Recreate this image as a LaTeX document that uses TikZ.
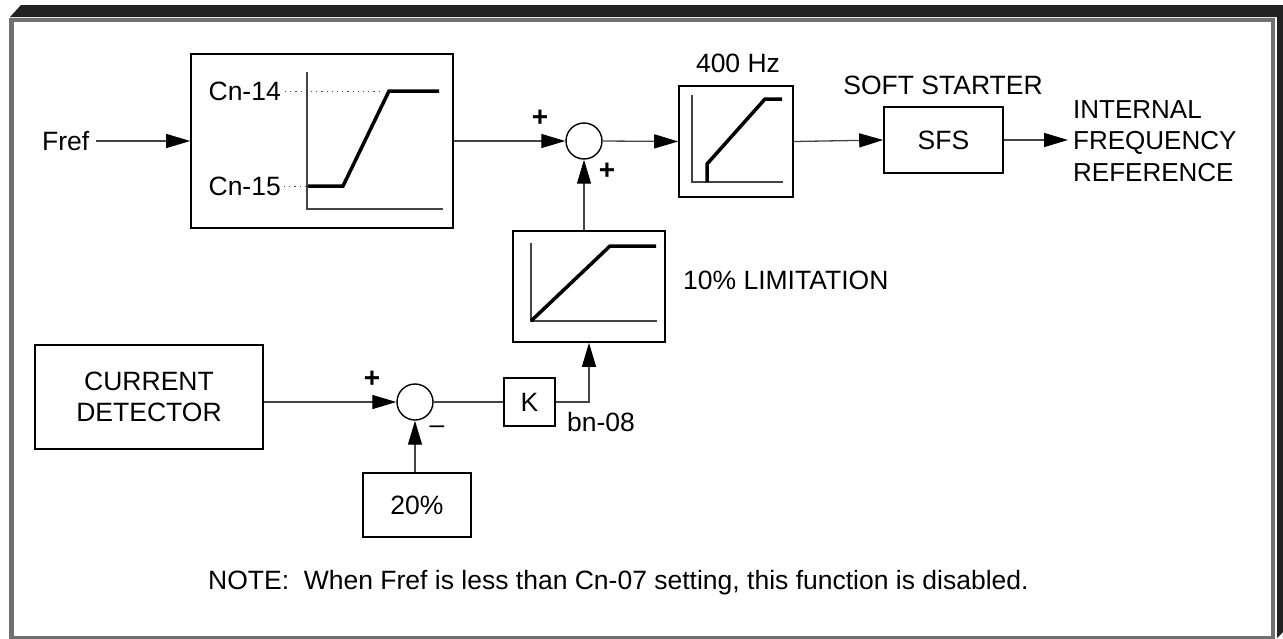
\documentclass[tikz,border=0pt]{standalone}
\usepackage{fontspec}
\setmainfont{Liberation Sans}
\usetikzlibrary{arrows.meta}
\definecolor{framedark}{HTML}{222222}
\definecolor{framegray}{HTML}{707070}
\definecolor{linegray}{HTML}{444444}
\begin{document}
\begin{tikzpicture}[x=1pt,y=-1pt,
  txt/.style={inner sep=0pt,font=\fontsize{26.5}{31}\selectfont},
  blk/.style={draw=black,line width=1.6pt,inner sep=0pt,font=\fontsize{26.5}{31}\selectfont,align=center},
  sumc/.style={draw=black,line width=1.4pt,circle,minimum size=36pt,inner sep=0pt},
  conn/.style={draw=linegray,line width=1.3pt},
  arr/.style={conn,-{Triangle[length=24pt,width=14pt,color=black]}},
  axis/.style={draw=linegray,line width=1.3pt},
  curve/.style={draw=black,line width=3.5pt,line join=miter},
  sign/.style={inner sep=0pt,font=\fontsize{28}{31}\selectfont\bfseries},
  msign/.style={inner sep=0pt,font=\fontsize{26.5}{31}\selectfont},
  dotl/.style={draw=linegray,line width=0.8pt,dash pattern=on 1.2pt off 4pt}]
\useasboundingbox (0,0) rectangle (1283,638);
% frame
\fill[framedark] (10,17) -- (21,5) -- (1283,5) -- (1283,632) -- (1277,638) -- (1277,17) -- cycle;
\fill[framegray] (9,18) rectangle (1275,641);
\fill[white] (14,22) rectangle (1271,636);
% top chain
\node[blk,minimum width=262pt,minimum height=174pt] (box1) at (322,141) {};
\node[txt,anchor=west] (fref) at (42,141) {Fref};
\node[sumc] (sum1) at (584,141) {};
\node[blk,minimum width=114pt,minimum height=111pt] (box2) at (736,141.5) {};
\node[blk,minimum width=119pt,minimum height=66pt] (sfs) at (943.5,140) {SFS};
\coordinate (out) at (1068,140);
\node[txt,anchor=west,align=left,font=\fontsize{26}{31.5}\selectfont] (ifr) at (1073,141) {INTERNAL\\FREQUENCY\\REFERENCE};
\node[txt] (hz) at (738,63) {400 Hz};
\node[txt] (soft) at (943,85) {SOFT STARTER};
% box1 plot
\node[txt,anchor=east] (cn14) at (281,91) {Cn-14};
\node[txt,anchor=east] (cn15) at (281,186) {Cn-15};
\draw[dotl] (285,91) -- (380,91);
\draw[dotl] (284,186) -- (306,186);
\draw[axis] (307,72) -- (307,209) -- (443,209);
\draw[curve] (308,186) -- (343,186) -- (389,91) -- (439,91);
% box2 plot
\draw[axis] (692,95) -- (692,182) -- (783,182);
\draw[curve] (707,182) -- (707,164) -- (765,99) -- (782,99);
% limitation
\node[blk,minimum width=152pt,minimum height=111pt] (box3) at (589,286.5) {};
\draw[axis] (531,243) -- (531,321) -- (657,321);
\draw[curve] (531,321) -- (610,246) -- (656,246);
\node[txt,anchor=west] (lim) at (683,280) {10\% LIMITATION};
% bottom chain
\node[blk,minimum width=228pt,minimum height=104pt] (cd) at (149,397) {CURRENT\\DETECTOR};
\node[sumc] (sum2) at (415,402) {};
\node[blk,minimum width=51pt,minimum height=48pt] (k) at (529.5,402) {K};
\node[txt,anchor=west] (bn) at (567,422) {bn-08};
\node[blk,minimum width=108pt,minimum height=64pt] (p20) at (417,505) {\raisebox{-5pt}{20\%}};
% signs
\node[sign] (p1) at (540,118) {+};
\node[sign] (p2) at (607,171) {+};
\node[sign] (p3) at (372,379) {+};
\node[msign] (m1) at (437,430) {–};
% connectors
\draw[arr] ([xshift=6pt]fref.east) -- (box1.west);
\draw[arr] (box1.east) -- (sum1.west);
\draw[arr] (sum1.east) -- (box2.west);
\draw[arr] (box2.east) -- (sfs.west);
\draw[arr] (sfs.east) -- (out);
\draw[arr] (sum1 |- box3.north) -- (sum1.south);
\draw[arr] (k.east) -| (box3.south);
\draw[conn] (sum2.east) -- (k.west);
\draw[arr] (cd.east |- sum2) -- (sum2.west);
\draw[arr] (sum2 |- p20.north) -- (sum2.south);
% note
\node[txt,anchor=west] (note) at (208,583) {NOTE:\ \ When Fref is less than Cn-07 setting, this function is disabled.};
\end{tikzpicture}
\end{document}
